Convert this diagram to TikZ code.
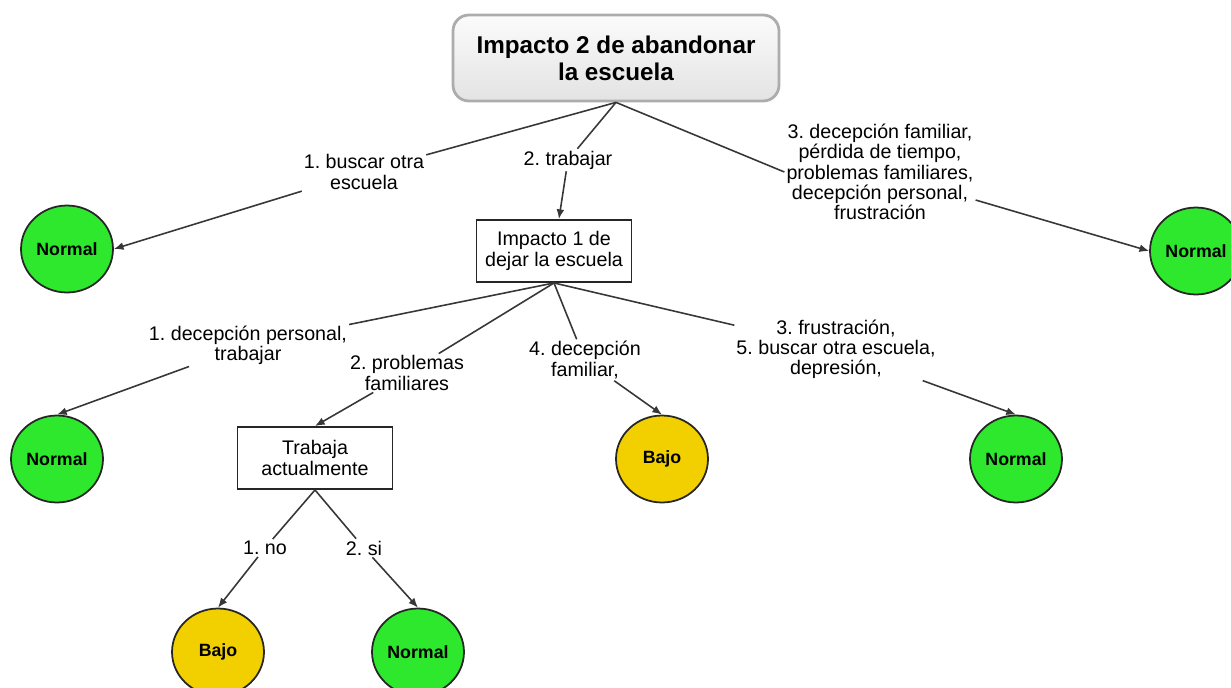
\documentclass[tikz,border=0pt]{standalone}
\usepackage{fontspec}
\setmainfont{Liberation Sans}
\usetikzlibrary{arrows.meta,shapes.geometric}
\frenchspacing

\definecolor{verde}{RGB}{45,232,45}
\definecolor{amarillo}{RGB}{242,208,0}
\definecolor{trazo}{RGB}{55,55,55}

\begin{document}
\begin{tikzpicture}[x=0.02cm, y=-0.02cm,
    caja/.style={draw=black!85, line width=1.1pt, fill=white, align=center,
        minimum width=3.1cm, minimum height=1.24cm, font=\fontsize{11.2}{11.6}\selectfont},
    etiqueta/.style={align=center, inner sep=1pt, font=\fontsize{11.2}{11.5}\selectfont},
    valor/.style={ellipse, draw=black!85, line width=1pt, minimum width=1.84cm,
        minimum height=1.74cm, inner sep=0pt, font=\bfseries\fontsize{10.1}{11}\selectfont},
    linea/.style={draw=trazo, line width=0.9pt},
    flecha/.style={linea, -{Latex[length=5.5pt, width=4.5pt]}}]
    \useasboundingbox (0,0) rectangle (1231,687);

    % Conceptos
    \node[draw=gray!65, line width=1.6pt, rounded corners=9pt, top color=gray!3, bottom color=gray!22,
        minimum width=6.52cm, minimum height=1.72cm, align=center,
        font=\bfseries\fontsize{13.8}{15.3}\selectfont] (imp2) at (616,58) {Impacto 2 de abandonar\\la escuela};
    \node[caja] (imp1) at (554,251) {Impacto 1 de\\dejar la escuela};
    \node[caja] (trab) at (315,458) {Trabaja\\actualmente};

    % Resultados
    \foreach \nome/\x/\y/\txt/\cor in {n1/67/249/Normal/verde, n2/1196/251/Normal/verde,
        n3/57/459/Normal/verde, b1/662/459/Bajo/amarillo, n4/1016/459/Normal/verde,
        b2/218/652/Bajo/amarillo, n5/418/652/Normal/verde}
        \node[valor, fill=\cor] (\nome) at (\x,\y) {\txt};

    % Frases de enlace
    \node[etiqueta] (e1) at (364,172) {1. buscar otra\\escuela};
    \node[etiqueta] (e2) at (568,160) {2. trabajar};
    \node[etiqueta] (e3) at (880,172) {3. decepción familiar,\\pérdida de tiempo,\\problemas familiares,\\decepción personal,\\frustración};
    \node[etiqueta] (e4) at (248,345) {1. decepción personal,\\trabajar};
    \node[etiqueta] (e5) at (407,373) {2. problemas\\familiares};
    \node[etiqueta] (e6) at (585,360) {4. decepción\\familiar,};
    \node[etiqueta] (e7) at (836,349) {3. frustración,\\5. buscar otra escuela,\\depresión,};
    \node[etiqueta] (e8) at (265,548) {1. no};
    \node[etiqueta] (e9) at (364,548) {2. si};

    % Conectores
    \draw[linea] (imp2.south) -- (e1);
    \draw[flecha] (e1) -- (n1.east);
    \draw[linea] (imp2.south) -- (e2);
    \draw[flecha] (e2) -- (imp1);
    \draw[linea] (imp2.south) -- (e3.west);
    \draw[flecha] (e3) -- (n2.west);
    \draw[linea] (imp1.south) -- (e4);
    \draw[flecha] (e4) -- (n3.north);
    \draw[linea] (imp1.south) -- (e5);
    \draw[flecha] (e5) -- (trab.north);
    \draw[linea] (imp1.south) -- (e6);
    \draw[flecha] (e6) -- (b1.north);
    \draw[linea] (imp1.south) -- (e7);
    \draw[flecha] (e7) -- (n4.north);
    \draw[linea] (trab.south) -- (e8);
    \draw[flecha] (e8) -- (b2.north);
    \draw[linea] (trab.south) -- (e9);
    \draw[flecha] (e9) -- (n5.north);
\end{tikzpicture}
\end{document}
